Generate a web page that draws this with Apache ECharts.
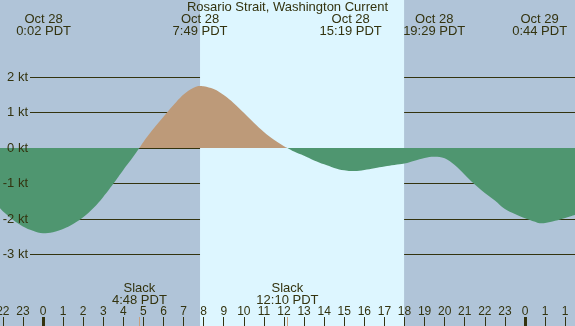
<!DOCTYPE html>
<html>
<head>
<meta charset="utf-8">
<script src="https://cdn.jsdelivr.net/npm/echarts@6/dist/echarts.min.js"></script>
<style>
  html, body { margin: 0; padding: 0; }
  #chart { width: 575px; height: 326px; }
</style>
</head>
<body>
<div id="chart"></div>
<script>
// hours since midnight Oct 28 (PDT), current in knots (+ flood / - ebb)
const hours = [-2.14, -2, -1.5, -1, -0.5, 0, 0.5, 1, 1.5, 2, 2.5, 3, 3.5, 4, 4.5, 4.8,
  5, 5.5, 6, 6.5, 7, 7.5, 7.82, 8, 8.5, 9, 9.5, 10, 10.5, 11, 11.5, 12, 12.17,
  12.5, 13, 13.5, 14, 14.5, 15, 15.32, 15.5, 16, 16.5, 17, 17.5, 18, 18.5, 19, 19.48,
  20, 20.5, 21, 21.5, 22, 22.5, 23, 23.5, 24, 24.5, 24.73, 25, 25.5, 26, 26.49];
const knots = [-1.70, -1.78, -2.02, -2.21, -2.33, -2.40, -2.37, -2.28, -2.14, -1.95, -1.70, -1.38, -1.01, -0.62, -0.24, 0,
  0.17, 0.54, 0.88, 1.21, 1.51, 1.70, 1.75, 1.74, 1.66, 1.49, 1.26, 0.99, 0.71, 0.45, 0.23, 0.05, 0,
  -0.10, -0.22, -0.35, -0.46, -0.56, -0.63, -0.65, -0.65, -0.62, -0.57, -0.52, -0.48, -0.44, -0.36, -0.28, -0.245,
  -0.29, -0.48, -0.75, -1.03, -1.27, -1.48, -1.72, -1.86, -1.98, -2.08, -2.12, -2.11, -2.05, -1.97, -1.89];

const eventHours = [0.03, 7.82, 15.32, 19.48, 24.73];
const eventDates = ['Oct 28', 'Oct 28', 'Oct 28', 'Oct 28', 'Oct 29'];
const eventTimes = ['0:02 PDT', '7:49 PDT', '15:19 PDT', '19:29 PDT', '0:44 PDT'];

const slackHours = [4.8, 12.17];
const slackTimes = ['4:48 PDT', '12:10 PDT'];

const hourTicks = [-2, -1, 0, 1, 2, 3, 4, 5, 6, 7, 8, 9, 10, 11, 12, 13, 14, 15, 16, 17,
  18, 19, 20, 21, 22, 23, 24, 25, 26];
const hourLabels = ['22', '23', '0', '1', '2', '3', '4', '5', '6', '7', '8', '9', '10', '11',
  '12', '13', '14', '15', '16', '17', '18', '19', '20', '21', '22', '23', '0', '1', '1'];
const midnights = [0, 24];
const daylight = [7.82, 17.98];

const xMin = -2.14, xMax = 26.49;
const ink = '#33330f';
const font = 'Liberation Sans';

const chart = echarts.init(document.getElementById('chart'));

const fullGrid = { left: 0, right: 0, top: 0, bottom: 0, outerBoundsMode: 'none', containLabel: false };
const ktGrid = { left: 30, right: 0, top: 77, bottom: 71.5, outerBoundsMode: 'none', containLabel: false };
const hiddenX = (i) => ({ gridIndex: i, type: 'value', min: xMin, max: xMax, show: false });
const hiddenY = (i) => ({ gridIndex: i, type: 'value', show: false, min: -5.014, max: 4.169 });
const tickAxis = (i, values, color, width) => ({
  gridIndex: i, type: 'value', min: xMin, max: xMax, position: 'bottom', z: 4,
  axisLine: { show: false, onZero: false },
  splitLine: { show: false },
  axisTick: { show: true, inside: true, length: 9, customValues: values, lineStyle: { color: color, width: width } },
  axisLabel: { show: false }
});
// knot axis: lines sit under the fill, labels over it
const ktAxis = (i, lines, labels, z) => ({
  gridIndex: i, type: 'value', min: -3, max: 2, interval: 1, z: z,
  axisLine: { show: false },
  axisTick: { show: false },
  splitLine: { show: lines, lineStyle: { color: ink, width: 1 } },
  axisLabel: { show: labels, margin: 2, fontFamily: font, fontSize: 13, color: ink, formatter: '{value} kt' }
});

const slackAxis = tickAxis(2, slackHours, '#c8a07e', 1);
slackAxis.axisLabel = {
  show: true, inside: true, margin: 20, customValues: slackHours,
  fontFamily: font, fontSize: 13, lineHeight: 12, color: ink,
  formatter: (v) => 'Slack\n' + slackTimes[slackHours.indexOf(v)]
};

const option = {
  backgroundColor: '#b0c4d8',
  animation: false,
  title: {
    text: 'Rosario Strait, Washington Current',
    left: 'center', top: 1, padding: 0,
    textStyle: { fontFamily: font, fontSize: 13, fontWeight: 'normal', color: ink }
  },
  grid: [fullGrid, fullGrid, fullGrid, ktGrid, ktGrid],
  xAxis: [
    {
      gridIndex: 0, type: 'value', min: xMin, max: xMax, position: 'bottom', z: 4,
      axisLine: { show: false, onZero: false },
      splitLine: { show: false },
      axisTick: { show: true, inside: true, length: 9, customValues: hourTicks, lineStyle: { color: ink } },
      axisLabel: {
        inside: true, margin: 8, customValues: hourTicks,
        fontFamily: font, fontSize: 12, color: ink,
        formatter: (v) => hourLabels[hourTicks.indexOf(v)]
      }
    },
    {
      gridIndex: 0, type: 'value', min: xMin, max: xMax, position: 'top', z: 4,
      axisLine: { show: false, onZero: false },
      splitLine: { show: false },
      axisTick: { show: false },
      axisLabel: {
        inside: true, margin: 13, customValues: eventHours,
        fontFamily: font, fontSize: 13, lineHeight: 12, color: ink,
        formatter: (v) => {
          const i = eventHours.indexOf(v);
          return eventDates[i] + '\n' + eventTimes[i];
        }
      }
    },
    tickAxis(1, midnights, ink, 3),
    slackAxis,
    hiddenX(3),
    hiddenX(4)
  ],
  yAxis: [
    hiddenY(0),
    hiddenY(1),
    hiddenY(2),
    ktAxis(3, true, false, 1),
    ktAxis(4, false, true, 5)
  ],
  visualMap: {
    show: false,
    seriesIndex: 1,
    dimension: 1,
    pieces: [
      { min: -10, max: 0, color: '#4f9670' },
      { min: 0, max: 10, color: '#bd9a79' }
    ]
  },
  series: [
    {
      type: 'line', xAxisIndex: 0, yAxisIndex: 0, data: [], z: 0, silent: true,
      markArea: {
        silent: true,
        itemStyle: { color: '#ddf6ff', opacity: 1 },
        data: [[{ xAxis: daylight[0] }, { xAxis: daylight[1] }]]
      }
    },
    {
      type: 'line', xAxisIndex: 0, yAxisIndex: 0, z: 2,
      smooth: 0.4, symbol: 'none', silent: true,
      lineStyle: { width: 0 },
      areaStyle: { opacity: 1 },
      data: hours.map((h, i) => [h, knots[i]])
    }
  ]
};

chart.setOption(option);
</script>
</body>
</html>
